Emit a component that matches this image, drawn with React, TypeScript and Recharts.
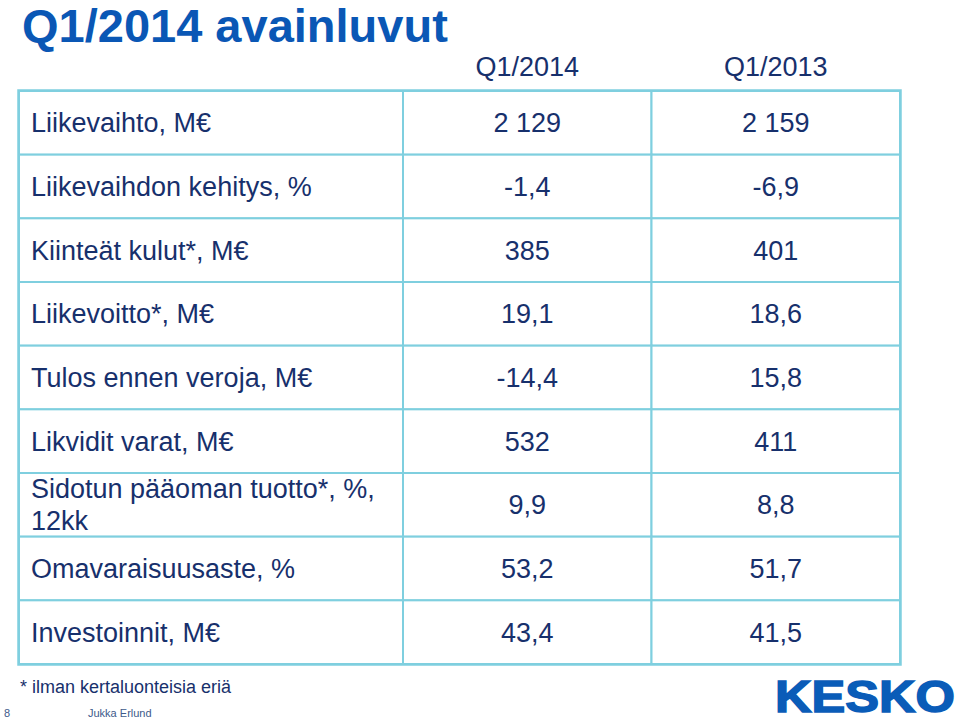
import React from "react";
import { ScatterChart, Scatter, XAxis, YAxis, Customized } from "recharts";

const title = "Q1/2014 avainluvut";
const periods = ["Q1/2014", "Q1/2013"];
const rowLabels = [
  "Liikevaihto, M€",
  "Liikevaihdon kehitys, %",
  "Kiinteät kulut*, M€",
  "Liikevoitto*, M€",
  "Tulos ennen veroja, M€",
  "Likvidit varat, M€",
  "Sidotun pääoman tuotto*, %,\n12kk",
  "Omavaraisuusaste, %",
  "Investoinnit, M€",
];
const valuesQ1_2014 = ["2 129", "-1,4", "385", "19,1", "-14,4", "532", "9,9", "53,2", "43,4"];
const valuesQ1_2013 = ["2 159", "-6,9", "401", "18,6", "15,8", "411", "8,8", "51,7", "41,5"];
const footnote = "* ilman kertaluonteisia eriä";
const pageNumber = "8";
const presenter = "Jukka Erlund";
const logoText = "KESKO";

const cells = rowLabels.flatMap((row, i) => [
  { period: periods[0], row, text: valuesQ1_2014[i] },
  { period: periods[1], row, text: valuesQ1_2013[i] },
]);

const W = 960;
const H = 722;
const MARGIN = { top: 0, right: 60, bottom: 58, left: 19 };
const X_AXIS_H = 91;
const Y_AXIS_W = 384;
const PLOT_W = W - MARGIN.left - MARGIN.right - Y_AXIS_W;
const PLOT_H = H - MARGIN.top - MARGIN.bottom - X_AXIS_H;
const BAND_W = PLOT_W / periods.length;
const BAND_H = PLOT_H / rowLabels.length;
const TABLE_LEFT = MARGIN.left;
const TABLE_TOP = MARGIN.top + X_AXIS_H;

const FONT = "'Liberation Sans', Arial, Helvetica, sans-serif";
const TEXT = "#17306c";
const BORDER = "#7fcfdf";
const TITLE = "#0a57b5";

function CellShape(props: any) {
  const { cx, cy, payload } = props;
  if (cx == null || cy == null) return null;
  return (
    <g>
      <rect x={cx - BAND_W / 2} y={cy - BAND_H / 2} width={BAND_W} height={BAND_H} fill="#fff" stroke={BORDER} strokeWidth={2} />
      <text x={cx} y={cy} dy="0.35em" textAnchor="middle" fontFamily={FONT} fontSize={27} fill={TEXT}>
        {payload.text}
      </text>
    </g>
  );
}

function RowTick(props: any) {
  const { y, payload } = props;
  const lines = String(payload.value).split("\n");
  const lh = 32;
  const startY = y - ((lines.length - 1) * lh) / 2;
  return (
    <g>
      <rect x={TABLE_LEFT} y={y - BAND_H / 2} width={Y_AXIS_W} height={BAND_H} fill="#fff" stroke={BORDER} strokeWidth={2} />
      <text x={TABLE_LEFT + 12} y={startY} textAnchor="start" fontFamily={FONT} fontSize={27} fill={TEXT}>
        {lines.map((l, i) => (
          <tspan key={i} x={TABLE_LEFT + 12} dy={i === 0 ? "0.35em" : lh}>
            {l}
          </tspan>
        ))}
      </text>
    </g>
  );
}

function HeaderTick(props: any) {
  const { x, y, payload } = props;
  return (
    <text x={x} y={y - 13} textAnchor="middle" fontFamily={FONT} fontSize={27} fill={TEXT}>
      {payload.value}
    </text>
  );
}

function Decorations() {
  return (
    <g>
      <rect x={TABLE_LEFT} y={TABLE_TOP} width={Y_AXIS_W + PLOT_W} height={PLOT_H} fill="none" stroke={BORDER} strokeWidth={3.5} />
      <text x={22} y={42} fontFamily={FONT} fontWeight="bold" fontSize={47} fill={TITLE}>
        {title}
      </text>
      <text x={20} y={693} fontFamily={FONT} fontSize={18} fill={TEXT}>
        {footnote}
      </text>
      <text x={4} y={717} fontFamily={FONT} fontSize={11} fill="#3d5a8a">
        {pageNumber}
      </text>
      <text x={88} y={717} fontFamily={FONT} fontSize={11} fill="#3d5a8a">
        {presenter}
      </text>
      <text x={775} y={712} fontFamily={FONT} fontWeight="bold" fontSize={44} fill="#0a5cb8" stroke="#0a5cb8" strokeWidth={1.5} textLength={180} lengthAdjust="spacingAndGlyphs">
        {logoText}
      </text>
    </g>
  );
}

export default function App() {
  return (
    <div style={{ position: "absolute", left: 0, top: 0, width: W, height: H, background: "#fff" }}>
      <ScatterChart width={W} height={H} margin={MARGIN}>
        <XAxis
          dataKey="period"
          type="category"
          orientation="top"
          allowDuplicatedCategory={false}
          height={X_AXIS_H}
          axisLine={false}
          tickLine={false}
          tickSize={0}
          tick={<HeaderTick />}
          interval={0}
        />
        <YAxis
          dataKey="row"
          type="category"
          allowDuplicatedCategory={false}
          width={Y_AXIS_W}
          axisLine={false}
          tickLine={false}
          tickSize={0}
          tick={<RowTick />}
          interval={0}
          reversed
        />
        <Scatter data={cells} shape={<CellShape />} isAnimationActive={false} />
        <Customized component={<Decorations />} />
      </ScatterChart>
    </div>
  );
}
